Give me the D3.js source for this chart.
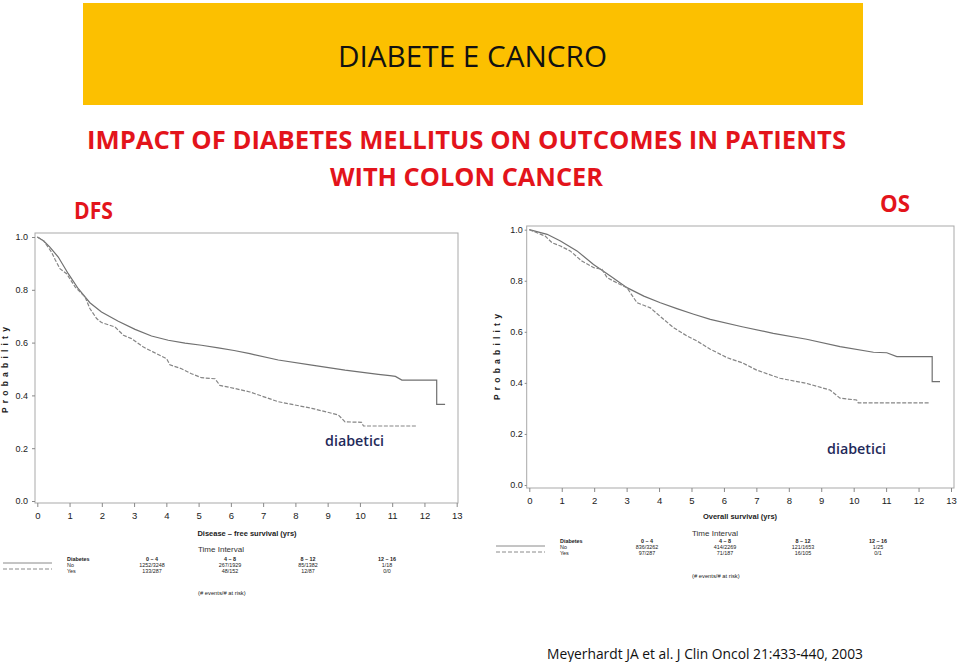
<!DOCTYPE html>
<html>
<head>
<meta charset="utf-8">
<script src="https://cdn.jsdelivr.net/npm/d3@7"></script>
<style>
  html, body { margin: 0; padding: 0; background: #fff; }
  svg { display: block; }
</style>
</head>
<body>
<svg id="chart" width="959" height="662"></svg>
<script>
// ---------- DATA ----------
const xTickValues = [0,1,2,3,4,5,6,7,8,9,10,11,12,13];
const yTickValues = [0, 0.2, 0.4, 0.6, 0.8, 1.0];

// Disease-free survival (time in years, probability)
const dfsNo = [[0,1],[0.2,0.985],[0.39,0.962],[0.65,0.924],[0.96,0.861],[1.27,0.804],[1.63,0.751],[1.99,0.716],[2.51,0.681],[3.03,0.650],[3.54,0.625],[4.06,0.609],[4.58,0.598],[5.09,0.590],[5.61,0.580],[6.1,0.570],[6.59,0.558],[7.47,0.534],[8.51,0.515],[9.54,0.496],[10.57,0.480],[10.93,0.475],[11.1,0.472],[11.3,0.458],[12.38,0.458],[12.38,0.366],[12.64,0.366]];
const dfsYes = [[0,1],[0.2,0.985],[0.44,0.943],[0.55,0.915],[0.70,0.880],[0.91,0.861],[1.17,0.811],[1.48,0.773],[1.63,0.729],[1.84,0.691],[1.99,0.676],[2.41,0.659],[2.67,0.628],[2.92,0.615],[3.29,0.583],[3.60,0.564],[4.01,0.539],[4.11,0.516],[4.47,0.501],[4.78,0.482],[5.09,0.467],[5.51,0.463],[5.66,0.438],[6.13,0.426],[6.59,0.413],[7.47,0.376],[8.51,0.351],[9.33,0.326],[9.54,0.300],[10.05,0.298],[10.11,0.284],[11.76,0.284]];

// Overall survival
const osNo = [[0,1],[0.55,0.982],[0.96,0.956],[1.47,0.917],[1.98,0.864],[2.50,0.819],[3.01,0.773],[3.53,0.740],[4.04,0.714],[4.55,0.691],[5.07,0.669],[5.58,0.649],[6.56,0.620],[7.52,0.594],[8.55,0.571],[9.58,0.542],[10.61,0.520],[11.02,0.518],[11.33,0.503],[12.42,0.503],[12.42,0.405],[12.66,0.405]];
const osYes = [[0,1],[0.49,0.975],[0.70,0.949],[0.96,0.936],[1.26,0.917],[1.62,0.877],[1.99,0.851],[2.24,0.845],[2.40,0.812],[2.70,0.792],[3.01,0.773],[3.32,0.714],[3.73,0.694],[4.14,0.649],[4.45,0.616],[4.86,0.584],[5.17,0.564],[5.58,0.532],[6.09,0.499],[6.56,0.479],[7.01,0.450],[7.73,0.418],[8.55,0.398],[9.27,0.372],[9.58,0.340],[10.09,0.333],[10.14,0.322],[12.35,0.322]];

// Risk tables
const intervals = ["0 – 4", "4 – 8", "8 – 12", "12 – 16"];
const dfsNoRisk = ["1252/3248", "267/1929", "85/1382", "1/18"];
const dfsYesRisk = ["133/287", "48/152", "12/87", "0/0"];
const osNoRisk = ["836/3262", "414/2269", "121/1653", "1/25"];
const osYesRisk = ["97/287", "71/187", "16/105", "0/1"];
const groupLabels = ["No", "Yes"];

// ---------- DRAW ----------
const svg = d3.select("#chart");
const RED = "#e3141b";
const NAVY = "#1f2a5a";
const sans = "'Liberation Sans', Arial, sans-serif";
const head = "'Open Sans', 'Noto Sans', sans-serif";

svg.append("rect").attr("width", 959).attr("height", 662).attr("fill", "#fff");

// Header banner
svg.append("rect").attr("x", 83).attr("y", 3).attr("width", 780).attr("height", 102).attr("fill", "#fcc000");
svg.append("text").attr("x", 338).attr("y", 67)
  .attr("font-family", head).attr("font-size", 29).attr("fill", "#111")
  .attr("textLength", 269).attr("lengthAdjust", "spacingAndGlyphs")
  .text("DIABETE E CANCRO");

svg.append("text").attr("x", 87).attr("y", 149)
  .attr("font-family", head).attr("font-weight", 700).attr("font-size", 25).attr("fill", RED)
  .attr("textLength", 759).attr("lengthAdjust", "spacingAndGlyphs")
  .text("IMPACT OF DIABETES MELLITUS ON OUTCOMES IN PATIENTS");
svg.append("text").attr("x", 330).attr("y", 186)
  .attr("font-family", head).attr("font-weight", 700).attr("font-size", 25).attr("fill", RED)
  .attr("textLength", 273).attr("lengthAdjust", "spacingAndGlyphs")
  .text("WITH COLON CANCER");
svg.append("text").attr("x", 74).attr("y", 219)
  .attr("font-family", head).attr("font-weight", 700).attr("font-size", 24).attr("fill", RED)
  .attr("textLength", 39).attr("lengthAdjust", "spacingAndGlyphs")
  .text("DFS");
svg.append("text").attr("x", 880).attr("y", 212)
  .attr("font-family", head).attr("font-weight", 700).attr("font-size", 23).attr("fill", RED)
  .attr("textLength", 30).attr("lengthAdjust", "spacingAndGlyphs")
  .text("OS");

function drawPanel(cfg) {
  const g = svg.append("g");
  const x = d3.scaleLinear().domain([0, 13]).range([cfg.x0, cfg.x13]);
  const y = d3.scaleLinear().domain([0, 1]).range([cfg.y0, cfg.y1]);

  // frame
  g.append("rect").attr("x", cfg.fl).attr("y", cfg.ft)
    .attr("width", cfg.fr - cfg.fl).attr("height", cfg.fb - cfg.ft)
    .attr("fill", "none").attr("stroke", "#a9a9a9").attr("stroke-width", 1);

  // x axis
  const xa = g.append("g").attr("transform", `translate(0,${cfg.fb})`)
    .call(d3.axisBottom(x).tickValues(xTickValues).tickFormat(d3.format("d"))
      .tickSize(4).tickPadding(5).tickSizeOuter(0));
  xa.select(".domain").remove();
  xa.selectAll("line").attr("stroke", "#888");
  xa.selectAll("text").attr("font-family", sans).attr("font-size", 9.5).attr("fill", "#222");

  // y axis
  const ya = g.append("g").attr("transform", `translate(${cfg.fl},0)`)
    .call(d3.axisLeft(y).tickValues(yTickValues).tickFormat(d3.format(".1f"))
      .tickSize(cfg.yTick).tickPadding(cfg.yPad).tickSizeOuter(0));
  ya.select(".domain").remove();
  ya.selectAll("line").attr("stroke", "#888");
  ya.selectAll("text").attr("font-family", sans).attr("font-size", 9).attr("fill", "#222");

  // y title
  g.append("text")
    .attr("transform", `translate(${cfg.ytx},${cfg.yty}) rotate(-90)`)
    .attr("text-anchor", "middle").attr("font-family", sans).attr("font-weight", 700)
    .attr("font-size", 8.5).attr("letter-spacing", 4.2).attr("fill", "#222")
    .text("Probability");

  const line = d3.line().x(d => x(d[0])).y(d => y(d[1]));
  g.append("path").datum(cfg.no).attr("d", line)
    .attr("fill", "none").attr("stroke", "#707070").attr("stroke-width", 1.2);
  g.append("path").datum(cfg.yes).attr("d", line)
    .attr("fill", "none").attr("stroke", "#858585").attr("stroke-width", 1.2)
    .attr("stroke-dasharray", "4,1.6");

  // diabetici label
  g.append("text").attr("x", cfg.lx).attr("y", cfg.ly)
    .attr("font-family", head).attr("font-weight", 600).attr("font-size", 15).attr("fill", NAVY)
    .attr("textLength", 59).attr("lengthAdjust", "spacingAndGlyphs")
    .text("diabetici");

  // x title
  if (cfg.xTitle) {
    g.append("text").attr("x", cfg.xtx).attr("y", cfg.xty).attr("text-anchor", "middle")
      .attr("font-family", sans).attr("font-weight", 700).attr("font-size", 7.5).attr("fill", "#222")
      .text(cfg.xTitle);
  }
  g.append("text").attr("x", cfg.tix).attr("y", cfg.tiy)
    .attr("font-family", sans).attr("font-size", 8).attr("fill", "#333")
    .text("Time Interval");

  // legend lines
  g.append("line").attr("x1", cfg.legX1).attr("x2", cfg.legX2).attr("y1", cfg.legY).attr("y2", cfg.legY)
    .attr("stroke", "#8a8a8a").attr("stroke-width", 1);
  g.append("line").attr("x1", cfg.legX1).attr("x2", cfg.legX2).attr("y1", cfg.legY + 6).attr("y2", cfg.legY + 6)
    .attr("stroke", "#8a8a8a").attr("stroke-width", 1).attr("stroke-dasharray", "4,2");

  // table
  const tf = 5.4;
  g.append("text").attr("x", cfg.tabX).attr("y", cfg.tabY)
    .attr("font-family", sans).attr("font-weight", 700).attr("font-size", tf).attr("fill", "#222")
    .text("Diabetes");
  groupLabels.forEach((lab, i) => {
    g.append("text").attr("x", cfg.tabX).attr("y", cfg.tabY + 6 * (i + 1))
      .attr("font-family", sans).attr("font-size", tf).attr("fill", "#222").text(lab);
  });
  intervals.forEach((iv, j) => {
    const cx = cfg.cols[j];
    g.append("text").attr("x", cx).attr("y", cfg.tabY).attr("text-anchor", "middle")
      .attr("font-family", sans).attr("font-weight", 700).attr("font-size", tf).attr("fill", "#222").text(iv);
    g.append("text").attr("x", cx).attr("y", cfg.tabY + 6).attr("text-anchor", "middle")
      .attr("font-family", sans).attr("font-size", tf).attr("fill", "#222").text(cfg.noRisk[j]);
    g.append("text").attr("x", cx).attr("y", cfg.tabY + 12).attr("text-anchor", "middle")
      .attr("font-family", sans).attr("font-size", tf).attr("fill", "#222").text(cfg.yesRisk[j]);
  });
  g.append("text").attr("x", cfg.evx).attr("y", cfg.evy)
    .attr("font-family", sans).attr("font-size", 5.8).attr("fill", "#222")
    .text("(# events/# at risk)");
}

drawPanel({
  fl: 35, fr: 458, ft: 233, fb: 503,
  x0: 37.3, x13: 456.7, y0: 501, y1: 237,
  yTick: 3, yPad: 4, ytx: 8, yty: 368,
  no: dfsNo, yes: dfsYes,
  lx: 325, ly: 446,
  xTitle: "Disease – free survival (yrs)", xtx: 247, xty: 536,
  tix: 198, tiy: 552,
  legX1: 3, legX2: 52, legY: 563,
  tabX: 67, tabY: 561, cols: [152, 230, 308, 387],
  noRisk: dfsNoRisk, yesRisk: dfsYesRisk,
  evx: 198, evy: 595
});

drawPanel({
  fl: 526.7, fr: 954, ft: 226, fb: 488,
  x0: 529.3, x13: 951, y0: 485, y1: 229.7,
  yTick: 2, yPad: 2, ytx: 500, yty: 355,
  no: osNo, yes: osYes,
  lx: 827, ly: 454,
  xTitle: "Overall survival (yrs)", xtx: 740, xty: 519,
  tix: 692, tiy: 536,
  legX1: 496, legX2: 545, legY: 546,
  tabX: 560, tabY: 543, cols: [647, 725, 803, 878],
  noRisk: osNoRisk, yesRisk: osYesRisk,
  evx: 692, evy: 578
});

// citation
svg.append("text").attr("x", 547).attr("y", 659)
  .attr("font-family", head).attr("font-size", 14.5).attr("fill", "#111")
  .attr("textLength", 316).attr("lengthAdjust", "spacingAndGlyphs")
  .text("Meyerhardt JA et al.  J Clin Oncol 21:433-440, 2003");
</script>
</body>
</html>
